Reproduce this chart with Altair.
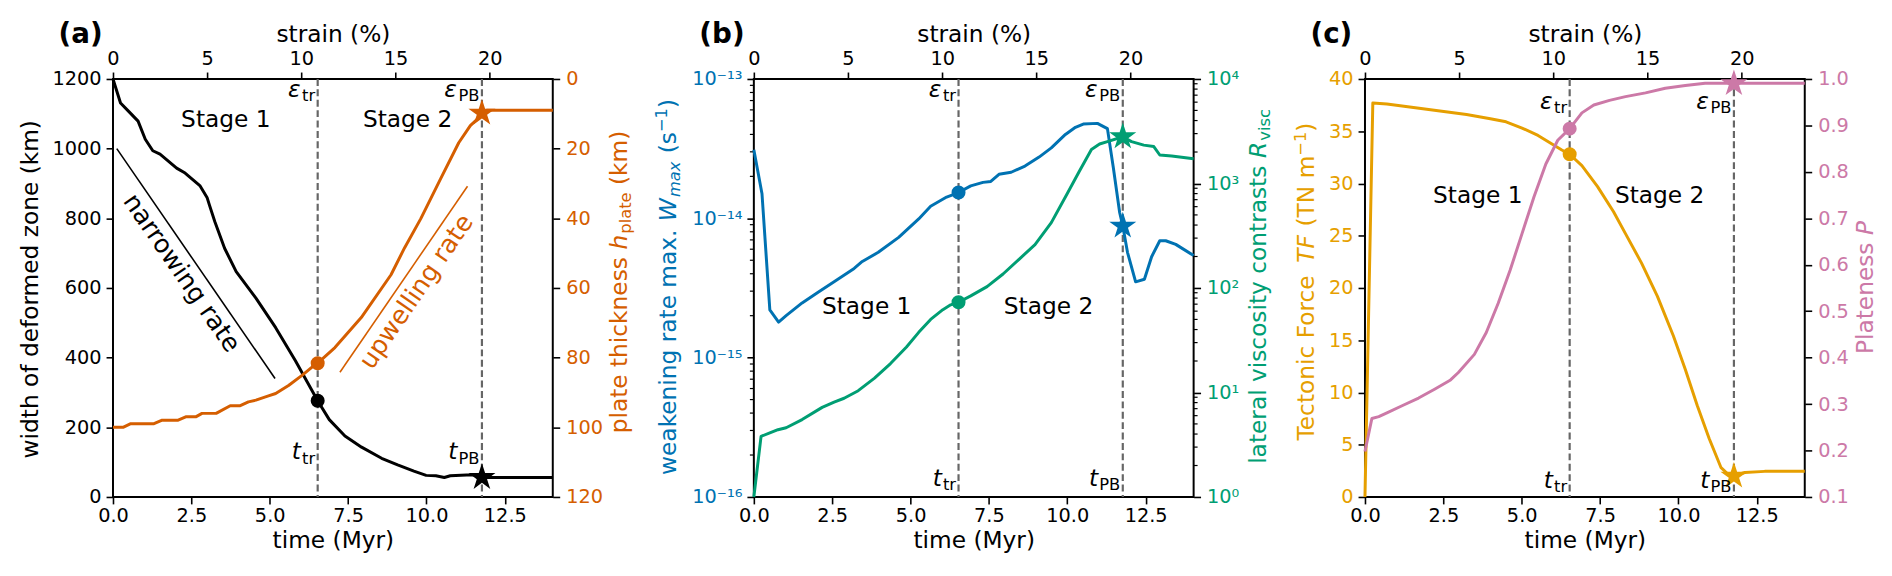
import altair as alt
import pandas as pd

FONT = "DejaVu Sans"

# ---------------- data ----------------
time_ticks = [0, 2.5, 5, 7.5, 10, 12.5]
strain_ticks = [0, 5, 10, 15, 20]
T_MAX = 14.03
STRAIN_MAX = 23.35
T_TR, T_PB = 6.53, 11.77
stage_names = ["Stage 1", "Stage 2"]
stage_t = [3.6, 9.4]

# (a) width of deformed zone (km)
a_t_width = [0, 0.24, 0.5, 0.8, 1.03, 1.27, 1.5, 2.03, 2.3, 2.77, 3.0, 3.08, 3.25, 3.56, 3.93,
             4.56, 5.19, 5.82, 6.53, 6.9, 7.4, 7.93, 8.57, 9.08, 9.6, 9.99, 10.3, 10.57, 10.76,
             11.28, 11.53, 11.77, 12.05, 14.03]
a_width = [1200, 1131, 1107, 1079, 1027, 994, 984, 944, 930, 894, 860, 837, 790, 714, 647,
           571, 486, 391, 276, 222, 175, 143, 111, 92, 74, 62, 61, 56, 61,
           63, 63, 56, 56, 56]
# (a) plate thickness (km)
a_t_plate = [0, 0.32, 0.55, 1.29, 1.55, 2.06, 2.32, 2.64, 2.84, 3.29, 3.74, 4.06, 4.32, 4.56,
             4.96, 5.19, 5.6, 6.03, 6.35, 6.53, 7.08, 7.92, 8.87, 9.3, 9.82, 10.45, 11.03, 11.4,
             11.77, 11.92, 14.03]
a_plate = [100, 100, 99, 99, 98, 98, 97, 97, 96, 96, 93.8, 93.8, 92.7, 92.2,
           91, 90.3, 88, 85.1, 82.7, 81.6, 77.1, 68.5, 56.2, 48.5, 40.1, 28.7, 18.3, 13.4,
           10.3, 9, 9]
a_width_marks = [276, 56]
a_plate_marks = [81.6, 9.8]
narrow_t = [0.12, 5.17]
narrow_w = [1000, 340]
upwell_t = [7.24, 11.31]
upwell_h = [84.2, 30.8]
a_left_ticks = [0, 200, 400, 600, 800, 1000, 1200]
a_right_ticks = [0, 20, 40, 60, 80, 100, 120]

# (b) weakening rate max (1/s)
b_t_W = [0, 0.26, 0.51, 0.79, 1.03, 1.54, 2.05, 2.56, 3.2, 3.46, 3.97, 4.62, 5.26, 5.64, 6.15,
         6.53, 6.92, 7.31, 7.56, 7.82, 8.21, 8.65, 9.1, 9.49, 9.94, 10.26, 10.51, 10.96, 11.28,
         11.47, 11.67, 11.77, 11.92, 12.18, 12.46, 12.69, 12.95, 13.14, 13.46, 14.03]
b_W = [3.1e-14, 1.5e-14, 2.2e-15, 1.8e-15, 2.0e-15, 2.47e-15, 2.95e-15, 3.5e-15, 4.37e-15,
       4.9e-15, 5.7e-15, 7.3e-15, 9.9e-15, 1.22e-14, 1.42e-14, 1.53e-14, 1.71e-14, 1.81e-14,
       1.84e-14, 2.07e-14, 2.14e-14, 2.37e-14, 2.75e-14, 3.2e-14, 4.0e-14, 4.5e-14, 4.75e-14,
       4.8e-14, 4.4e-14, 2.3e-14, 1.1e-14, 8.8e-15, 5.7e-15, 3.5e-15, 3.65e-15, 5.3e-15,
       6.9e-15, 6.9e-15, 6.5e-15, 5.4e-15]
# (b) lateral viscosity contrasts
b_t_R = [0, 0.23, 0.51, 0.77, 1.03, 1.54, 2.18, 2.56, 2.88, 3.33, 3.85, 4.36, 4.87, 5.26, 5.64,
         6.03, 6.28, 6.53, 6.92, 7.44, 7.95, 8.46, 8.97, 9.49, 10.0, 10.38, 10.77, 11.03, 11.28,
         11.77, 12.05, 12.44, 12.76, 12.95, 13.33, 14.03]
b_R = [1.0, 3.8, 4.1, 4.4, 4.6, 5.5, 7.2, 8.1, 8.8, 10.4, 13.7, 18.9, 27.2, 37.6, 50,
       62, 69, 73, 84, 103, 136, 188, 260, 422, 803, 1303, 2113, 2385, 2515,
       2800, 2515, 2327, 2255, 1873, 1830, 1727]
b_W_marks = [1.53e-14, 8.8e-15]
b_R_marks = [73, 2800]
b_left_ticks = [1e-16, 1e-15, 1e-14, 1e-13]
b_left_labels = ["10⁻¹⁶", "10⁻¹⁵", "10⁻¹⁴", "10⁻¹³"]
b_right_ticks = [1, 10, 100, 1000, 10000]
b_right_labels = ["10⁰", "10¹", "10²", "10³", "10⁴"]
b_left_minor = [k * 10.0 ** e for e in (-16, -15, -14) for k in range(2, 10)]
b_right_minor = [k * 10.0 ** e for e in (0, 1, 2, 3) for k in range(2, 10)]

# (c) tectonic force (TN/m)
c_t_TF = [0, 0.25, 0.7, 1.97, 3.24, 4.0, 4.5, 5.01, 5.52, 5.9, 6.28, 6.53, 6.92, 7.42, 7.93,
          8.31, 8.82, 9.33, 9.84, 10.22, 10.6, 10.98, 11.36, 11.61, 11.77, 12.12, 12.75, 14.03]
c_TF = [0, 37.7, 37.6, 37.1, 36.6, 36.2, 35.9, 35.3, 34.6, 33.9, 33.2, 32.8, 31.7, 29.7, 27.3,
        25.2, 22.4, 19.2, 15.4, 12.2, 8.75, 5.6, 2.8, 2.1, 2.03, 2.34, 2.45, 2.45]
# (c) plateness
c_t_P = [0, 0.22, 0.44, 0.7, 1.2, 1.71, 2.22, 2.73, 2.98, 3.49, 3.87, 4.25, 4.63, 5.01, 5.39,
         5.77, 6.15, 6.53, 6.92, 7.3, 7.8, 8.31, 8.95, 9.58, 10.22, 10.85, 11.77, 14.03]
c_P = [0.198, 0.269, 0.273, 0.281, 0.297, 0.313, 0.332, 0.352, 0.368, 0.407, 0.454, 0.517,
       0.588, 0.667, 0.746, 0.817, 0.868, 0.893, 0.927, 0.944, 0.954, 0.962, 0.97, 0.98,
       0.986, 0.991, 0.991, 0.991]
c_TF_marks = [32.8, 2.0]
c_P_marks = [0.893, 0.99]
c_left_ticks = [0, 5, 10, 15, 20, 25, 30, 35, 40]
c_right_ticks = [0.1, 0.2, 0.3, 0.4, 0.5, 0.6, 0.7, 0.8, 0.9, 1.0]

# ---------------- style ----------------
BLACK = "#000000"
VERM = "#D55E00"
BLUE = "#0072B2"
GREEN = "#009E73"
ORANGE = "#E69F00"
PINK = "#CC79A7"
DASH = "#666666"
W, H = 444, 422
FS_TICK = 19.5
FS_TITLE = 23.5
FS_NOTE = 23.5
STAR = ("M0,-1L0.2245,-0.309L0.9511,-0.309L0.3633,0.118L0.5878,0.809L0,0.382"
        "L-0.5878,0.809L-0.3633,0.118L-0.9511,-0.309L-0.2245,-0.309Z")

CW = {' ': 0.318, '(': 0.390, ')': 0.390, '.': 0.318, '%': 0.952, '-': 0.361, '−': 0.838,
      'a': 0.613, 'b': 0.635, 'c': 0.550, 'd': 0.635, 'e': 0.615, 'f': 0.352, 'g': 0.635,
      'h': 0.634, 'i': 0.278, 'k': 0.579, 'l': 0.278, 'm': 0.974, 'n': 0.634, 'o': 0.612,
      'p': 0.635, 'r': 0.411, 's': 0.521, 't': 0.392, 'u': 0.634, 'v': 0.592, 'w': 0.818,
      'x': 0.592, 'y': 0.592, 'z': 0.525, 'T': 0.611, 'F': 0.575, 'N': 0.748, 'P': 0.603,
      'R': 0.695, 'W': 0.989, 'B': 0.686, 'S': 0.635, 'M': 0.863, 'ε': 0.56}

ONE = pd.DataFrame({"_": [0]})


def tw(s, fs):
    return sum(CW.get(ch, 0.636 if ch.isdigit() else 0.6) for ch in s) * fs


def tx(axis=None):
    return alt.X("t:Q", scale=alt.Scale(domain=[0, T_MAX], nice=False, zero=False), axis=axis)


def time_axis():
    return alt.Axis(orient="bottom", values=time_ticks, format=".1f", title="time (Myr)",
                    labelPadding=3, titlePadding=4)


def yaxis(orient, values, color, fmt=None, expr=None):
    kw = dict(orient=orient, values=values, title=None, labelColor=color,
              labelPadding=5 if orient == "left" else 6)
    if fmt:
        kw["format"] = fmt
    if expr:
        kw["labelExpr"] = expr
    return alt.Axis(**kw)


def label_expr(vals, labels):
    parts = []
    for v, l in zip(vals[:-1], labels[:-1]):
        parts.append(f"datum.value < {v * 1.5} ? '{l}' : ")
    return "".join(parts) + f"'{labels[-1]}'"


def line(t, v, color, ysc, yax=None, xax=None, sw=3.0):
    df = pd.DataFrame({"t": t, "v": v})
    return alt.Chart(df).mark_line(color=color, strokeWidth=sw, strokeJoin="round").encode(
        x=tx(xax), y=alt.Y("v:Q", scale=ysc, axis=yax))


def markers(vals, color, ysc):
    d1 = pd.DataFrame({"t": [T_TR], "v": [vals[0]]})
    d2 = pd.DataFrame({"t": [T_PB], "v": [vals[1]]})
    dot = alt.Chart(d1).mark_point(shape="circle", size=200, filled=True, color=color,
                                   opacity=1, strokeWidth=0).encode(
        x=tx(), y=alt.Y("v:Q", scale=ysc, axis=None))
    star = alt.Chart(d2).mark_point(shape=STAR, size=820, filled=True, color=color,
                                    opacity=1, strokeWidth=0).encode(
        x=tx(), y=alt.Y("v:Q", scale=ysc, axis=None))
    return [dot, star]


def dashed():
    return alt.Chart(pd.DataFrame({"t": [T_TR, T_PB]})).mark_rule(
        color=DASH, strokeWidth=2.2, strokeDash=[7, 3.5]).encode(x=tx())


def strain_layer():
    return alt.Chart(pd.DataFrame({"s": [0, STRAIN_MAX]})).mark_point(opacity=0).encode(
        x=alt.X("s:Q", scale=alt.Scale(domain=[0, STRAIN_MAX], nice=False, zero=False),
                axis=alt.Axis(orient="top", values=strain_ticks, format="d",
                              title="strain (%)", labelPadding=4, titlePadding=2)))


def rich(segs, fs, color, anchor, y, xpos=None, tval=None, angle=0, dxoff=0.0):
    sizes, widths = [], []
    for s, k in segs:
        f = fs * 0.7 if k in ("sub", "subit", "sup") else fs
        w = tw(s, f)
        if k in ("it", "subit"):
            w += 0.05 * f
        sizes.append(f)
        widths.append(w)
    total = sum(widths)
    start = {"center": -total / 2, "left": 0.0, "right": -total}[anchor] + dxoff
    out = []
    cum = start
    for (s, k), f, w in zip(segs, sizes, widths):
        lead = tw(s[:len(s) - len(s.lstrip())], f)
        txt = s.strip()
        if k in ("sub", "subit"):
            dy = 0.18 * fs
        elif k == "sup":
            dy = -0.36 * fs
        else:
            dy = 0.0
        mk = dict(text=txt, font=FONT, fontSize=f, color=color, align="left",
                  baseline="alphabetic", dx=cum + lead, dy=dy)
        if angle:
            mk["angle"] = angle
        if k in ("it", "subit"):
            mk["fontStyle"] = "italic"
        if tval is not None:
            ch = alt.Chart(pd.DataFrame({"t": [tval]})).mark_text(**mk).encode(
                x=tx(), y=alt.value(y))
        else:
            ch = alt.Chart(ONE).mark_text(**mk).encode(x=alt.value(xpos), y=alt.value(y))
        out.append(ch)
        cum += w
    return out


def vtitle(segs, color, x, yc):
    return rich(segs, FS_TITLE, color, "center", yc, xpos=x, angle=270)


def marks_labels(y_eps, y_t):
    out = []
    for t, sub in ((T_TR, "tr"), (T_PB, "PB")):
        out += rich([("ε", "it"), (sub, "sub")], FS_NOTE, BLACK, "right", y_eps,
                    tval=t, dxoff=-2.5)
        out += rich([("t", "it"), (sub, "sub")], FS_NOTE, BLACK, "right", y_t,
                    tval=t, dxoff=-2.5)
    return out


def stages(y):
    df = pd.DataFrame({"t": stage_t, "name": stage_names})
    return alt.Chart(df).mark_text(font=FONT, fontSize=FS_NOTE, color=BLACK, align="center",
                                   baseline="alphabetic").encode(
        x=tx(), y=alt.value(y), text="name:N")


def panel_label(s):
    return alt.Chart(ONE).mark_text(text=s, font=FONT, fontSize=28, fontWeight="bold",
                                    color=BLACK, align="left", baseline="alphabetic").encode(
        x=alt.value(-55), y=alt.value(-36))


def minor_ticks(vals, ysc, side):
    x0, x1 = (0, -4) if side == "left" else (W, W + 4)
    return alt.Chart(pd.DataFrame({"v": vals})).mark_rule(color=BLACK, strokeWidth=1.2).encode(
        y=alt.Y("v:Q", scale=ysc, axis=None), x=alt.value(x0), x2=alt.value(x1))


def panel(layers):
    return alt.layer(*layers).resolve_scale(x="independent", y="independent").properties(
        width=W, height=H)


# ---------------- panel (a) ----------------
ya = alt.Scale(domain=[0, 1200], nice=False, zero=False)
yh = alt.Scale(domain=[0, 120], nice=False, zero=False, reverse=True)
na_df = pd.DataFrame({"t": [2.19], "v": [643]})
up_df = pd.DataFrame({"t": [9.68], "v": [61.1]})
pa = panel(
    [strain_layer(), dashed(),
     line(a_t_width, a_width, BLACK, ya, yaxis("left", a_left_ticks, BLACK, "d"), time_axis()),
     line(a_t_plate, a_plate, VERM, yh, yaxis("right", a_right_ticks, VERM, "d")),
     line(narrow_t, narrow_w, BLACK, ya, sw=1.6),
     line(upwell_t, upwell_h, VERM, yh, sw=1.6),
     alt.Chart(na_df).mark_text(text="narrowing rate", font=FONT, fontSize=25.5, color=BLACK,
                                angle=55.45, align="center", baseline="middle").encode(
         x=tx(), y=alt.Y("v:Q", scale=ya, axis=None)),
     alt.Chart(up_df).mark_text(text="upwelling rate", font=FONT, fontSize=25.5, color=VERM,
                                angle=304.4, align="center", baseline="middle").encode(
         x=tx(), y=alt.Y("v:Q", scale=yh, axis=None)),
     stages(48), panel_label("(a)")]
    + markers(a_width_marks, BLACK, ya) + markers(a_plate_marks, VERM, yh)
    + marks_labels(18, 384)
    + vtitle([("width of deformed zone (km)", "rm")], BLACK, -76, 212)
    + vtitle([("plate thickness ", "rm"), ("h", "it"), ("plate", "sub"), (" (km)", "rm")],
             VERM, W + 75, 205)
)

# ---------------- panel (b) ----------------
yW = alt.Scale(type="log", domain=[1e-16, 1e-13], nice=False)
yR = alt.Scale(type="log", domain=[1, 1e4], nice=False)
pb = panel(
    [strain_layer(), dashed(),
     minor_ticks(b_left_minor, yW, "left"), minor_ticks(b_right_minor, yR, "right"),
     line(b_t_W, b_W, BLUE, yW,
          yaxis("left", b_left_ticks, BLUE, expr=label_expr(b_left_ticks, b_left_labels)),
          time_axis()),
     line(b_t_R, b_R, GREEN, yR,
          yaxis("right", b_right_ticks, GREEN, expr=label_expr(b_right_ticks, b_right_labels))),
     stages(237), panel_label("(b)")]
    + markers(b_W_marks, BLUE, yW) + markers(b_R_marks, GREEN, yR)
    + marks_labels(18, 411)
    + vtitle([("weakening rate max. ", "rm"), ("W", "it"), ("max", "subit"), (" (s", "rm"),
              ("−1", "sup"), (")", "rm")], BLUE, -79, 210)
    + vtitle([("lateral viscosity contrasts ", "rm"), ("R", "it"), ("visc", "sub")],
             GREEN, W + 73, 209.5)
)

# ---------------- panel (c) ----------------
yT = alt.Scale(domain=[0, 40], nice=False, zero=False)
yP = alt.Scale(domain=[0.1, 1.0], nice=False, zero=False)
pc = panel(
    [strain_layer(), dashed(),
     line(c_t_TF, c_TF, ORANGE, yT, yaxis("left", c_left_ticks, ORANGE, "d"), time_axis()),
     line(c_t_P, c_P, PINK, yP, yaxis("right", c_right_ticks, PINK, ".1f")),
     stages(125.5), panel_label("(c)")]
    + markers(c_TF_marks, ORANGE, yT) + markers(c_P_marks, PINK, yP)
    + marks_labels(30, 413)
    + vtitle([("Tectonic Force ", "rm"), ("TF", "it"), (" (TN m", "rm"), ("−1", "sup"),
              (")", "rm")], ORANGE, -51, 204.5)
    + vtitle([("Plateness ", "rm"), ("P", "it")], PINK, W + 69, 210)
)

chart = alt.hconcat(pa, pb, pc, spacing=17).properties(
    padding={"left": 9, "top": 10, "right": 5, "bottom": 5},
    background="white",
).configure_axis(
    labelFont=FONT, labelFontSize=FS_TICK, titleFont=FONT, titleFontSize=FS_TITLE,
    titleFontWeight="normal", titleColor=BLACK, tickColor=BLACK, tickWidth=1.6, tickSize=7,
    domain=False, grid=False, labelFlush=False, labelOverlap=False, labelBound=False,
).configure_view(stroke=BLACK, strokeWidth=2)

chart.save("out.html", embed_options={"renderer": "svg", "actions": False})
